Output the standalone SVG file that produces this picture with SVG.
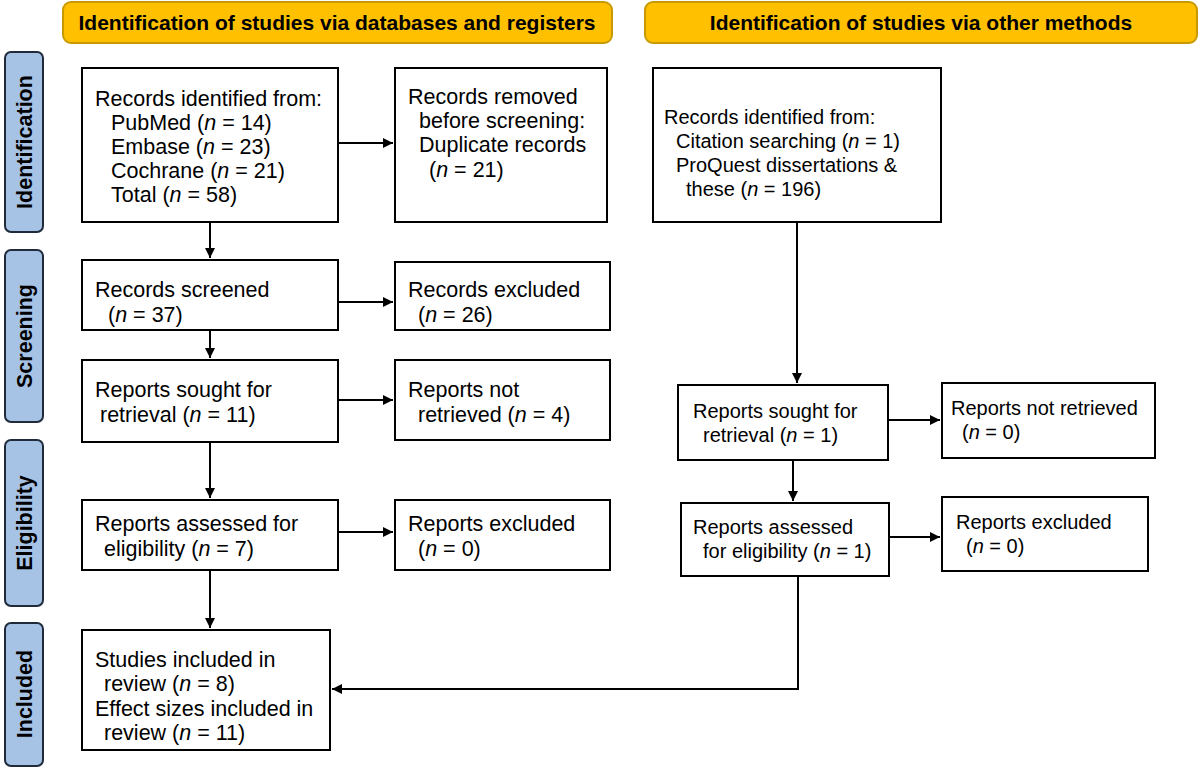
<svg xmlns="http://www.w3.org/2000/svg" width="1200" height="770" viewBox="0 0 1200 770">
<defs>
<marker id="ah" viewBox="0 0 10 10" refX="10" refY="5" markerWidth="11" markerHeight="10" markerUnits="userSpaceOnUse" orient="auto"><path d="M0,0 L10,5 L0,10 z" fill="#000"/></marker>
<style>
text{font-family:"Liberation Sans",Arial,sans-serif;font-size:21.5px;fill:#000}
.r text{font-size:20px}
.box{fill:#fff;stroke:#000;stroke-width:2}
.hdr{fill:#ffc000;stroke:#c89a00;stroke-width:2}
.hdrt{font-weight:bold;font-size:21px;text-anchor:middle}
.side{fill:#a6c3e6;stroke:#1f2a3a;stroke-width:2}
.sidet{font-weight:bold;font-size:21.5px;text-anchor:middle}
.c{fill:none;stroke:#000;stroke-width:2}
</style>
</defs>
<g id="header-left"><rect class="hdr" x="63" y="2" width="549" height="41" rx="8"/><text class="hdrt" x="337" y="30">Identification of studies via databases and registers</text></g>
<g id="header-right"><rect class="hdr" x="645" y="2" width="552" height="41" rx="8"/><text class="hdrt" x="921" y="30">Identification of studies via other methods</text></g>
<g id="side-identification"><rect class="side" x="5" y="52" width="38" height="180" rx="6"/><text class="sidet" transform="translate(32,142) rotate(-90)">Identification</text></g>
<g id="side-screening"><rect class="side" x="5" y="250" width="38" height="172" rx="6"/><text class="sidet" transform="translate(32,336) rotate(-90)">Screening</text></g>
<g id="side-eligibility"><rect class="side" x="5" y="440" width="38" height="166" rx="6"/><text class="sidet" transform="translate(32,523) rotate(-90)">Eligibility</text></g>
<g id="side-included"><rect class="side" x="5" y="623" width="38" height="143" rx="6"/><text class="sidet" transform="translate(32,694) rotate(-90)">Included</text></g>

<g id="n-identified"><rect class="box" x="82" y="68" width="256" height="154"/>
<text x="95" y="106">Records identified from:</text>
<text x="111" y="130">PubMed (<tspan font-style="italic">n</tspan> = 14)</text>
<text x="111" y="154">Embase (<tspan font-style="italic">n</tspan> = 23)</text>
<text x="111" y="178">Cochrane (<tspan font-style="italic">n</tspan> = 21)</text>
<text x="111" y="202">Total (<tspan font-style="italic">n</tspan> = 58)</text></g>
<g id="n-removed"><rect class="box" x="395" y="68" width="212" height="154"/>
<text x="408" y="104">Records removed</text>
<text x="419" y="128">before screening:</text>
<text x="419" y="152">Duplicate records</text>
<text x="429" y="177">(<tspan font-style="italic">n</tspan> = 21)</text></g>
<g id="n-other" class="r"><rect class="box" x="653" y="68" width="288" height="154"/>
<text x="664" y="124">Records identified from:</text>
<text x="676" y="148">Citation searching (<tspan font-style="italic">n</tspan> = 1)</text>
<text x="676" y="172">ProQuest dissertations &amp;</text>
<text x="686" y="196">these (<tspan font-style="italic">n</tspan> = 196)</text></g>
<g id="n-screened"><rect class="box" x="82" y="260" width="256" height="70"/>
<text x="95" y="297">Records screened</text><text x="108" y="322">(<tspan font-style="italic">n</tspan> = 37)</text></g>
<g id="n-excluded"><rect class="box" x="395" y="262" width="215" height="68"/>
<text x="408" y="297">Records excluded</text><text x="418" y="322">(<tspan font-style="italic">n</tspan> = 26)</text></g>
<g id="n-sought"><rect class="box" x="82" y="360" width="256" height="82"/>
<text x="95" y="397">Reports sought for</text><text x="100" y="422">retrieval (<tspan font-style="italic">n</tspan> = 11)</text></g>
<g id="n-notretrieved"><rect class="box" x="395" y="360" width="215" height="80"/>
<text x="408" y="397">Reports not</text><text x="418" y="422">retrieved (<tspan font-style="italic">n</tspan> = 4)</text></g>
<g id="n-assessed"><rect class="box" x="82" y="500" width="256" height="70"/>
<text x="95" y="531">Reports assessed for</text><text x="104" y="556">eligibility (<tspan font-style="italic">n</tspan> = 7)</text></g>
<g id="n-repexcluded"><rect class="box" x="395" y="500" width="215" height="70"/>
<text x="408" y="531">Reports excluded</text><text x="418" y="556">(<tspan font-style="italic">n</tspan> = 0)</text></g>
<g id="n-included"><rect class="box" x="82" y="630" width="248" height="120"/>
<text x="95" y="667">Studies included in</text><text x="104" y="691">review (<tspan font-style="italic">n</tspan> = 8)</text>
<text x="95" y="716">Effect sizes included in</text><text x="104" y="740">review (<tspan font-style="italic">n</tspan> = 11)</text></g>
<g id="n-sought2" class="r"><rect class="box" x="678" y="385" width="210" height="75"/>
<text x="693" y="418">Reports sought for</text><text x="703" y="442">retrieval (<tspan font-style="italic">n</tspan> = 1)</text></g>
<g id="n-notretrieved2" class="r"><rect class="box" x="942" y="383" width="213" height="75"/>
<text x="951" y="415">Reports not retrieved</text><text x="962" y="439">(<tspan font-style="italic">n</tspan> = 0)</text></g>
<g id="n-assessed2" class="r"><rect class="box" x="681" y="503" width="208" height="73"/>
<text x="693" y="534">Reports assessed</text><text x="703" y="558">for eligibility (<tspan font-style="italic">n</tspan> = 1)</text></g>
<g id="n-repexcluded2" class="r"><rect class="box" x="942" y="497" width="206" height="74"/>
<text x="956" y="529">Reports excluded</text><text x="966" y="553">(<tspan font-style="italic">n</tspan> = 0)</text></g>

<g id="connectors">
<path class="c" d="M338,143 H393" marker-end="url(#ah)"/>
<path class="c" d="M210,222 V258" marker-end="url(#ah)"/>
<path class="c" d="M338,302 H393" marker-end="url(#ah)"/>
<path class="c" d="M210,330 V358" marker-end="url(#ah)"/>
<path class="c" d="M338,400 H393" marker-end="url(#ah)"/>
<path class="c" d="M210,442 V498" marker-end="url(#ah)"/>
<path class="c" d="M338,532 H393" marker-end="url(#ah)"/>
<path class="c" d="M210,570 V628" marker-end="url(#ah)"/>
<path class="c" d="M797,222 V383" marker-end="url(#ah)"/>
<path class="c" d="M888,420 H940" marker-end="url(#ah)"/>
<path class="c" d="M793,460 V501" marker-end="url(#ah)"/>
<path class="c" d="M889,537 H940" marker-end="url(#ah)"/>
<path class="c" d="M706,576 H798 V689 H332" marker-end="url(#ah)"/>
</g>
</svg>
